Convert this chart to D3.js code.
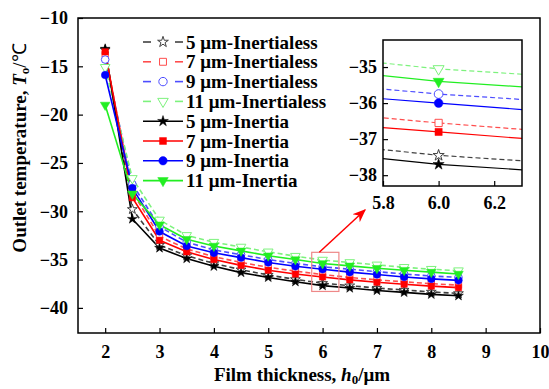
<!DOCTYPE html>
<html><head><meta charset="utf-8">
<script src="https://cdn.jsdelivr.net/npm/d3@7"></script>
<style>
body{margin:0;background:#fff;}
svg text{font-family:"Liberation Serif","Times New Roman",serif;font-weight:bold;}
</style></head>
<body><svg id="c" width="549" height="389"></svg>
<script>
const filmThickness = [2, 2.5, 3, 3.5, 4, 4.5, 5, 5.5, 6, 6.5, 7, 7.5, 8, 8.5];
const less5  = [-13.3, -29.8, -33.5, -34.6, -35.4, -36.05, -36.6, -37.05, -37.45, -37.7, -37.95, -38.15, -38.35, -38.5];
const less7  = [-13.7, -28.0, -32.6, -33.9, -34.7, -35.3, -35.8, -36.2, -36.55, -36.85, -37.1, -37.3, -37.5, -37.65];
const less9  = [-14.3, -27.2, -31.6, -33.2, -34.0, -34.5, -35.0, -35.4, -35.75, -36.0, -36.25, -36.5, -36.7, -36.85];
const less11 = [-15.1, -26.6, -30.9, -32.5, -33.2, -33.7, -34.2, -34.65, -35.05, -35.3, -35.55, -35.8, -36.0, -36.15];
const iner5  = [-13.2, -30.8, -33.8, -34.9, -35.7, -36.35, -36.85, -37.3, -37.7, -37.95, -38.2, -38.4, -38.6, -38.75];
const iner7  = [-13.5, -28.6, -33.0, -34.2, -35.0, -35.6, -36.1, -36.5, -36.8, -37.1, -37.35, -37.55, -37.75, -37.9];
const iner9  = [-15.9, -27.6, -32.1, -33.6, -34.3, -34.8, -35.3, -35.7, -36.0, -36.3, -36.55, -36.8, -37.0, -37.15];
const iner11 = [-19.0, -28.2, -31.4, -32.9, -33.6, -34.1, -34.6, -35.0, -35.4, -35.65, -35.9, -36.1, -36.3, -36.5];
const seriesNames = ["5 μm-Inertialess","7 μm-Inertialess","9 μm-Inertialess","11 μm-Inertialess",
                     "5 μm-Inertia","7 μm-Inertia","9 μm-Inertia","11 μm-Inertia"];
const xTicks = [2,3,4,5,6,7,8,9,10];
const yTicks = [-10,-15,-20,-25,-30,-35,-40];
const insetXTicks = [5.8, 6.0, 6.2];
const insetYTicks = [-35, -36, -37, -38];

const seriesValues = [less5, less7, less9, less11, iner5, iner7, iner9, iner11];
const colors = ["#404040","#ff4d4d","#4d4dff","#7df27d","#000000","#ff0000","#0000ff","#22ee22"];
const symbols = [d3.symbolStar, d3.symbolSquare, d3.symbolCircle, "tri", d3.symbolStar, d3.symbolSquare, d3.symbolCircle, "tri"];
const sizes = [30, 40, 46, 40, 30, 40, 46, 40];

const svg = d3.select("#c");
const x = d3.scaleLinear().domain([1.5, 10]).range([78, 540]);
const y = d3.scaleLinear().domain([-42.6, -10]).range([333, 18]);

function symType(i){ return symbols[i] === "tri" ? d3.symbolTriangle : symbols[i]; }
function symTransform(i, px, py){
  return symbols[i] === "tri" ? `translate(${px},${py}) rotate(180)` : `translate(${px},${py})`;
}

function drawSeries(g, xs, ys, lw, msc){
  seriesValues.forEach((vals, i) => {
    const dashed = i < 4;
    const data = filmThickness.map((t, k) => [t, vals[k]]);
    const line = d3.line().x(d => xs(d[0])).y(d => ys(d[1]));
    g.append("path").attr("d", line(data)).attr("fill","none")
      .attr("stroke", colors[i]).attr("stroke-width", lw)
      .attr("stroke-dasharray", dashed ? "5,3" : null);
  });
  seriesValues.forEach((vals, i) => {
    const hollow = i < 4;
    g.selectAll(null).data(filmThickness.map((t,k)=>[t, vals[k]])).enter()
      .append("path").attr("d", d3.symbol().type(symType(i)).size(sizes[i]*msc)())
      .attr("transform", d => symTransform(i, xs(d[0]), ys(d[1])))
      .attr("fill", hollow ? "#fff" : colors[i])
      .attr("stroke", colors[i]).attr("stroke-width", hollow ? 1 : 0.5);
  });
}

// main plot
svg.append("clipPath").attr("id","cm").append("rect")
  .attr("x",78).attr("y",18).attr("width",462).attr("height",315);
const gMain = svg.append("g").attr("clip-path","url(#cm)");
drawSeries(gMain, x, y, 1.6, 1);

// frame
svg.append("rect").attr("x",78).attr("y",18).attr("width",462).attr("height",315)
  .attr("fill","none").attr("stroke","#000").attr("stroke-width",1.5);

// axes
const xAxis = d3.axisBottom(x).tickValues(xTicks).tickSizeInner(-5).tickSizeOuter(0).tickPadding(12).tickFormat(d3.format("d"));
const gx = svg.append("g").attr("transform","translate(0,333)").call(xAxis);
gx.select(".domain").remove();
gx.selectAll("text").attr("font-size",18).attr("fill","#000");
const yAxis = d3.axisLeft(y).tickValues(yTicks).tickSizeInner(-5).tickSizeOuter(0).tickPadding(10).tickFormat(d3.format("d"));
const gy = svg.append("g").attr("transform","translate(78,0)").call(yAxis);
gy.select(".domain").remove();
gy.selectAll("text").attr("font-size",18).attr("fill","#000");

// axis titles
const xt = svg.append("text").attr("x",302).attr("y",381).attr("text-anchor","middle").attr("font-size",19);
xt.append("tspan").text("Film thickness, ");
xt.append("tspan").attr("font-style","italic").text("h");
xt.append("tspan").attr("font-size",13).attr("dy",3).text("0");
xt.append("tspan").attr("dy",-3).text("/μm");

const yt = svg.append("text").attr("transform","translate(26,148) rotate(-90)").attr("text-anchor","middle").attr("font-size",19);
yt.append("tspan").text("Outlet temperature, ");
yt.append("tspan").attr("font-style","italic").text("T");
yt.append("tspan").attr("font-size",13).attr("dy",3).text("o");
yt.append("tspan").attr("dy",-3).attr("font-weight","normal").text("/℃");

// legend
const legend = svg.append("g");
seriesNames.forEach((name, i) => {
  const cy = 42 + i * 19.8;
  const dashed = i < 4;
  if (dashed) {
    legend.append("line").attr("x1",143).attr("x2",151).attr("y1",cy).attr("y2",cy).attr("stroke",colors[i]).attr("stroke-width",1.6);
    legend.append("line").attr("x1",175).attr("x2",183).attr("y1",cy).attr("y2",cy).attr("stroke",colors[i]).attr("stroke-width",1.6);
  } else {
    legend.append("line").attr("x1",143).attr("x2",183).attr("y1",cy).attr("y2",cy).attr("stroke",colors[i]).attr("stroke-width",1.6);
  }
  legend.append("path").attr("d", d3.symbol().type(symType(i)).size(sizes[i]*1.2)())
    .attr("transform", symTransform(i, 163, cy))
    .attr("fill", dashed ? "#fff" : colors[i]).attr("stroke", colors[i]).attr("stroke-width", dashed?1:0.5);
  legend.append("text").attr("x",186).attr("y",cy+6.5).attr("font-size",19).text(name);
});

// zoom box & arrow
const bx0 = x(5.8), bx1 = x(6.3), by0 = y(-34.25), by1 = y(-38.3);
svg.append("rect").attr("x",bx0).attr("y",by0).attr("width",bx1-bx0).attr("height",by1-by0)
  .attr("fill","none").attr("stroke","#ee8888").attr("stroke-width",1.2);
svg.append("defs").append("marker").attr("id","ah").attr("viewBox","0 0 10 10").attr("refX",9).attr("refY",5)
  .attr("markerWidth",9).attr("markerHeight",9).attr("orient","auto")
  .append("path").attr("d","M0,1 L10,5 L0,9 L3,5 Z").attr("fill","#ff0000");
svg.append("line").attr("x1",(bx0+bx1)/2-6).attr("y1",by0).attr("x2",365).attr("y2",210)
  .attr("stroke","#ff0000").attr("stroke-width",1.5).attr("marker-end","url(#ah)");

// inset
const xi = d3.scaleLinear().domain([5.8, 6.3]).range([383, 522]);
const yi = d3.scaleLinear().domain([-38.3, -34.25]).range([186, 40]);
svg.append("rect").attr("x",383).attr("y",40).attr("width",139).attr("height",146).attr("fill","#fff");
svg.append("clipPath").attr("id","ci").append("rect").attr("x",383).attr("y",40).attr("width",139).attr("height",146);
const gIn = svg.append("g").attr("clip-path","url(#ci)");
drawSeries(gIn, xi, yi, 1.2, 1.3);
svg.append("rect").attr("x",383).attr("y",40).attr("width",139).attr("height",146)
  .attr("fill","none").attr("stroke","#000").attr("stroke-width",1.5);
const gix = svg.append("g").attr("transform","translate(0,186)")
  .call(d3.axisBottom(xi).tickValues(insetXTicks).tickSizeInner(-5).tickSizeOuter(0).tickPadding(10).tickFormat(d3.format(".1f")));
gix.select(".domain").remove();
gix.selectAll("text").attr("font-size",18).attr("fill","#000");
const giy = svg.append("g").attr("transform","translate(383,0)")
  .call(d3.axisLeft(yi).tickValues(insetYTicks).tickSizeInner(-5).tickSizeOuter(0).tickPadding(6).tickFormat(d3.format("d")));
giy.select(".domain").remove();
giy.selectAll("text").attr("font-size",18).attr("fill","#000");
svg.selectAll(".tick line").attr("stroke","#000").attr("stroke-width",1.2);
</script></body></html>
